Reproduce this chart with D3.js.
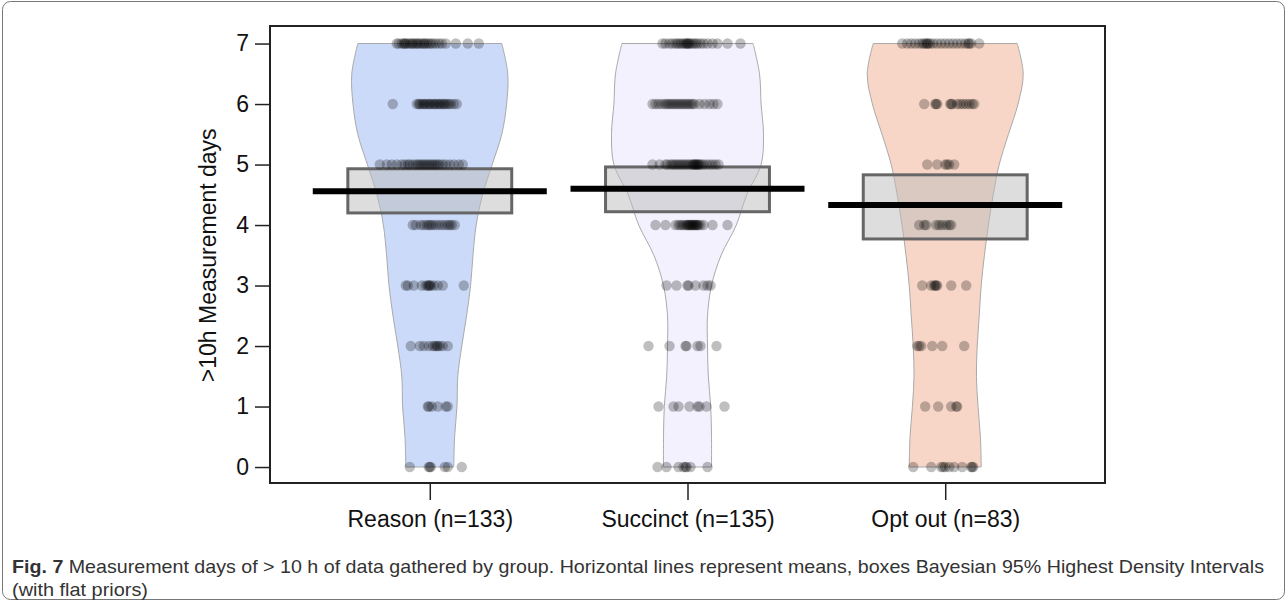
<!DOCTYPE html>
<html>
<head>
<meta charset="utf-8">
<script src="https://cdn.jsdelivr.net/npm/d3@7"></script>
<style>
  body { margin: 0; background: #fff; }
  text { font-family: "Liberation Sans", Arial, sans-serif; }
</style>
</head>
<body>
<script>
/* data */

var groups = ['Reason (n=133)', 'Succinct (n=135)', 'Opt out (n=83)'];
var means = [4.56, 4.60, 4.33];
var hdiLow = [4.20, 4.22, 3.77];
var hdiHigh = [4.93, 4.96, 4.83];
var dayTicks = [0, 1, 2, 3, 4, 5, 6, 7];

// violin half-widths (relative density) at days 0, 0.5, 1 ... 7
var densityLevels = [0, 0.5, 1, 1.5, 2, 2.5, 3, 3.5, 4, 4.5, 5, 5.5, 6, 6.5, 7];
var reasonDensity = [0.30, 0.31, 0.34, 0.35, 0.40, 0.46, 0.51, 0.54, 0.58, 0.66, 0.78, 0.90, 0.96, 0.975, 0.90];
var succinctDensity = [0.30, 0.30, 0.29, 0.26, 0.25, 0.25, 0.30, 0.42, 0.61, 0.74, 0.92, 0.95, 0.92, 0.90, 0.82];
var optoutDensity = [0.45, 0.44, 0.41, 0.39, 0.40, 0.425, 0.45, 0.49, 0.54, 0.60, 0.675, 0.79, 0.91, 0.975, 0.90];

// horizontal jitter of each participant, listed per number of days (index = days)
var reasonJitter = [
  [-0.4, -0.02, 0, 0.02, 0.3, 0.36, 0.64],
  [-0.04, -0.02, 0.04, 0.16, 0.32, 0.36],
  [-0.38, -0.2, -0.12, -0.02, 0.06, 0.1, 0.14, 0.16, 0.2, 0.26, 0.36],
  [-0.48, -0.44, -0.32, -0.16, -0.08, -0.04, -0.02, 0, 0.02, 0.08, 0.16, 0.26, 0.68],
  [-0.34, -0.28, -0.18, -0.12, -0.06, -0.02, 0.02, 0.06, 0.12, 0.18, 0.24, 0.3, 0.36, 0.4, 0.44, 0.5],
  [-1, -0.86, -0.76, -0.66, -0.56, -0.5, -0.44, -0.4, -0.34, -0.28, -0.24, -0.2, -0.16, -0.12, -0.08, -0.04, 0, 0.04, 0.08, 0.12, 0.16, 0.2, 0.26, 0.32, 0.4, 0.48, 0.58, 0.66],
  [-0.74, -0.26, -0.22, -0.2, -0.16, -0.12, -0.1, -0.06, -0.02, 0, 0.04, 0.08, 0.1, 0.14, 0.18, 0.2, 0.24, 0.28, 0.3, 0.34, 0.38, 0.42, 0.48, 0.54],
  [-0.66, -0.62, -0.56, -0.52, -0.5, -0.48, -0.44, -0.4, -0.36, -0.34, -0.3, -0.26, -0.24, -0.2, -0.16, -0.12, -0.1, -0.06, -0.02, 0.02, 0.06, 0.12, 0.18, 0.24, 0.32, 0.52, 0.76, 0.98]
];
var succinctJitter = [
  [-0.6, -0.42, -0.18, -0.08, -0.04, -0.02, 0.06, 0.4],
  [-0.58, -0.28, -0.18, 0.04, 0.2, 0.24, 0.38, 0.74],
  [-0.78, -0.36, -0.04, -0.02, 0.2, 0.26, 0.58],
  [-0.42, -0.22, 0, 0.02, 0.16, 0.32, 0.4, 0.46],
  [-0.64, -0.44, -0.24, -0.18, -0.14, -0.1, -0.06, -0.02, 0, 0.02, 0.04, 0.06, 0.08, 0.1, 0.12, 0.14, 0.16, 0.18, 0.2, 0.22, 0.26, 0.32, 0.5, 0.8],
  [-0.7, -0.56, -0.44, -0.4, -0.34, -0.3, -0.26, -0.22, -0.18, -0.14, -0.1, -0.06, -0.02, 0.02, 0.06, 0.1, 0.12, 0.14, 0.16, 0.18, 0.2, 0.22, 0.24, 0.28, 0.32, 0.38, 0.44, 0.5, 0.56, 0.62],
  [-0.7, -0.64, -0.58, -0.52, -0.46, -0.42, -0.38, -0.34, -0.3, -0.26, -0.22, -0.18, -0.14, -0.1, -0.06, -0.02, 0.02, 0.06, 0.1, 0.14, 0.24, 0.34, 0.44, 0.52, 0.6],
  [-0.5, -0.44, -0.36, -0.3, -0.24, -0.2, -0.16, -0.12, -0.08, -0.04, -0.02, 0, 0.02, 0.04, 0.08, 0.12, 0.16, 0.2, 0.26, 0.32, 0.4, 0.5, 0.6, 0.8, 1.06]
];
var optoutJitter = [
  [-0.64, -0.28, -0.08, -0.04, 0, 0.08, 0.18, 0.34, 0.52, 0.54, 0.56],
  [-0.4, -0.14, 0.12, 0.22, 0.24],
  [-0.56, -0.52, -0.48, -0.26, -0.06, 0.38],
  [-0.46, -0.28, -0.22, -0.2, -0.18, -0.16, 0.12, 0.42],
  [-0.52, -0.42, -0.38, -0.18, -0.12, -0.06, 0.02, 0.08, 0.12],
  [-0.36, -0.16, 0, 0.04, 0.08, 0.18],
  [-0.42, -0.2, -0.18, -0.16, 0.1, 0.12, 0.14, 0.24, 0.3, 0.36, 0.42, 0.48, 0.54, 0.58],
  [-0.86, -0.76, -0.68, -0.6, -0.52, -0.46, -0.42, -0.38, -0.36, -0.34, -0.3, -0.24, -0.16, -0.08, 0, 0.08, 0.16, 0.24, 0.32, 0.4, 0.46, 0.48, 0.52, 0.68]
];

var densities = [reasonDensity, succinctDensity, optoutDensity];
var jitters = [reasonJitter, succinctJitter, optoutJitter];
var fills = ['#cbdaf8', '#f2f1fd', '#f7d6c7'];


/* canvas */

var width = 1287;
var height = 601;
var plot = { left: 270, right: 1105, top: 26, bottom: 483 };

var svg = d3.select('body').
append('svg').
attr('width', width).
attr('height', height);

// figure frame
svg.append('rect').
attr('x', 2.5).
attr('y', 1.5).
attr('width', width - 5).
attr('height', height - 3).
attr('rx', 8).
attr('fill', 'none').
attr('stroke', '#777').
attr('stroke-width', 1);


/* scales */

var x = d3.scaleLinear().domain([0.38, 3.62]).range([plot.left, plot.right]);
var y = d3.scaleLinear().domain([-0.264, 7.29]).range([plot.bottom, plot.top]);
var unit = x(1) - x(0);
var violinScale = d3.scaleLinear().domain([0, 1]).range([0, 80 / unit]);
var jitterScale = d3.scaleLinear().domain([-1, 1]).range([-50 / unit, 50 / unit]);


/* violins */

var g = svg.append('g');

densities.forEach(function (dens, i) {
      var c = i + 1;
      var area = d3.area().
      curve(d3.curveCatmullRom).
      y(function (d, k) {return y(densityLevels[k]);}).
      x0(function (d) {return x(c - violinScale(d));}).
      x1(function (d) {return x(c + violinScale(d));});

      g.append('path').
      datum(dens).
      attr('d', area).
      attr('fill', fills[i]).
      attr('stroke', '#aaa').
      attr('stroke-width', 1);
});


/* HDI boxes */

g.selectAll('rect.hdi').
data(groups).
enter().
append('rect').
attr('class', 'hdi').
attr('x', function (d, i) {return x(i + 1 - 0.318);}).
attr('width', function () {return x(0.636) - x(0);}).
attr('y', function (d, i) {return y(hdiHigh[i]);}).
attr('height', function (d, i) {return y(hdiLow[i]) - y(hdiHigh[i]);}).
attr('fill', '#bcbcbc').
attr('fill-opacity', 0.5).
attr('stroke', '#666').
attr('stroke-width', 3);


/* points */

jitters.forEach(function (levels, i) {
      var pts = [];
      levels.forEach(function (list, day) {
            list.forEach(function (j) {pts.push({ day: day, j: j });});
      });
      g.append('g').
      selectAll('circle').
      data(pts).
      enter().
      append('circle').
      attr('cx', function (d) {return x(i + 1 + jitterScale(d.j));}).
      attr('cy', function (d) {return y(d.day);}).
      attr('r', 5.2).
      attr('fill', '#000').
      attr('fill-opacity', 0.25);
});


/* mean lines */

g.selectAll('line.mean').
data(means).
enter().
append('line').
attr('class', 'mean').
attr('x1', function (d, i) {return x(i + 1 - 0.454);}).
attr('x2', function (d, i) {return x(i + 1 + 0.454);}).
attr('y1', function (d) {return y(d);}).
attr('y2', function (d) {return y(d);}).
attr('stroke', '#000').
attr('stroke-width', 6);


/* plot box + axes */

svg.append('rect').
attr('x', plot.left).
attr('y', plot.top).
attr('width', plot.right - plot.left).
attr('height', plot.bottom - plot.top).
attr('fill', 'none').
attr('stroke', '#222').
attr('stroke-width', 2);

var yAxis = svg.append('g').
attr('transform', 'translate(' + plot.left + ',0)').
call(d3.axisLeft(y).tickValues(dayTicks).tickSize(15).tickPadding(6));

var xAxis = svg.append('g').
attr('transform', 'translate(0,' + plot.bottom + ')').
call(d3.axisBottom(x).tickValues([1, 2, 3]).tickSize(17).tickPadding(11).
tickFormat(function (d) {return groups[d - 1];}));

[yAxis, xAxis].forEach(function (a) {
      a.select('.domain').remove();
      a.selectAll('.tick line').attr('stroke', '#222').attr('stroke-width', 1.5);
      a.selectAll('.tick text').
      attr('fill', '#111').
      style('font-size', '23px').
      style('font-family', '"Liberation Sans", Arial, sans-serif');
});

svg.append('text').
text('>10h Measurement days').
attr('transform', 'translate(216,' + y(3.5) + ') rotate(-90)').
attr('text-anchor', 'middle').
attr('fill', '#111').
style('font-size', '23px');


/* caption */

var cap = svg.append('text').
attr('x', 12).
attr('y', 573).
attr('textLength', 1252).
attr('lengthAdjust', 'spacingAndGlyphs').
attr('fill', '#333').
style('font-size', '18.5px');

cap.append('tspan').
style('font-weight', 'bold').
text('Fig. 7');

cap.append('tspan').
text(' Measurement days of > 10 h of data gathered by group. Horizontal lines represent means, boxes Bayesian 95% Highest Density Intervals');

svg.append('text').
attr('x', 12).
attr('y', 596).
attr('textLength', 136).
attr('lengthAdjust', 'spacingAndGlyphs').
attr('fill', '#333').
style('font-size', '18.5px').
text('(with flat priors)');
</script>
</body>
</html>
